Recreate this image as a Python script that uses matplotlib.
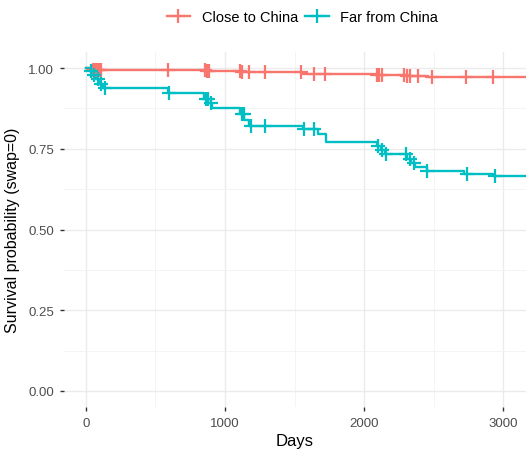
import matplotlib.pyplot as plt
import numpy as np

plt.rcParams['font.family'] = ['Liberation Sans', 'DejaVu Sans']

# Kaplan-Meier style step data
close_times = [0, 30, 860, 1120, 1560, 2090, 2300, 2460]
close_surv = [1.0, 0.995, 0.991, 0.987, 0.983, 0.979, 0.975, 0.972]
close_censor = [50, 65, 80, 95, 105, 590, 855, 870, 885, 1105, 1125, 1175, 1290,
                1550, 1640, 1720, 2090, 2110, 2130, 2290, 2310, 2330, 2390, 2490,
                2730, 2930]

far_times = [0, 20, 45, 70, 95, 125, 590, 850, 880, 910, 1110, 1140, 1170, 1560,
             1670, 1730, 2090, 2120, 2150, 2310, 2340, 2370, 2450, 2720, 2930]
far_surv = [1.0, 0.99, 0.978, 0.966, 0.952, 0.938, 0.924, 0.905, 0.893, 0.876,
            0.857, 0.84, 0.82, 0.81, 0.795, 0.772, 0.758, 0.745, 0.735, 0.72,
            0.706, 0.695, 0.682, 0.672, 0.665]
far_censor = [35, 60, 85, 110, 135, 600, 860, 875, 900, 1120, 1135, 1190, 1290,
              1570, 1640, 2100, 2130, 2160, 2300, 2330, 2360, 2455, 2740, 2940]

t_end = 3200
red = '#F8766D'
teal = '#00BFC4'

fig = plt.figure(figsize=(5.26, 4.52), dpi=100)
ax = fig.add_axes([64 / 526, 1 - 408 / 452, 1 - 64 / 526, (408 - 53) / 452])


def km(ax, times, surv, censor, color, label):
    t = np.append(times, t_end)
    s = np.append(surv, surv[-1])
    ax.step(t, s, where='post', color=color, lw=1.7, zorder=3)
    idx = np.searchsorted(times, censor, side='right') - 1
    ax.plot(censor, np.array(surv)[idx], ls='none', marker='+', ms=10, mew=1.6,
            color=color, zorder=4)
    ax.plot([], [], color=color, lw=1.7, marker='+', ms=10, mew=1.6, label=label)


km(ax, close_times, close_surv, close_censor, red, 'Close to China')
km(ax, far_times, far_surv, far_censor, teal, 'Far from China')

ax.set_xlim(-158, 3165)
ax.set_ylim(-0.05, 1.05)
ax.set_xticks([0, 1000, 2000, 3000])
ax.set_yticks([0, 0.25, 0.5, 0.75, 1.0])
ax.set_yticklabels(['0.00', '0.25', '0.50', '0.75', '1.00'])
ax.set_xticks([500, 1500, 2500], minor=True)
ax.set_yticks([0.125, 0.375, 0.625, 0.875], minor=True)
ax.grid(True, which='major', color='#EBEBEB', lw=1.0)
ax.grid(True, which='minor', color='#F2F2F2', lw=0.6)
ax.set_axisbelow(True)
for sp in ax.spines.values():
    sp.set_visible(False)
ax.tick_params(which='major', length=3, width=1, color='#333333',
               labelsize=9.5, labelcolor='#4D4D4D', pad=4)
ax.tick_params(which='minor', length=0)

ax.set_xlabel('Days', fontsize=12, color='black', labelpad=3)
ax.set_ylabel('Survival probability (swap=0)', fontsize=11.5, color='black', labelpad=6)

fig.legend(loc='upper center', bbox_to_anchor=(0.575, 1.005), ncol=2, frameon=False,
           fontsize=10.5, handlelength=1.6, columnspacing=0.5, handletextpad=0.8)

fig.savefig('out.png', dpi=100)
